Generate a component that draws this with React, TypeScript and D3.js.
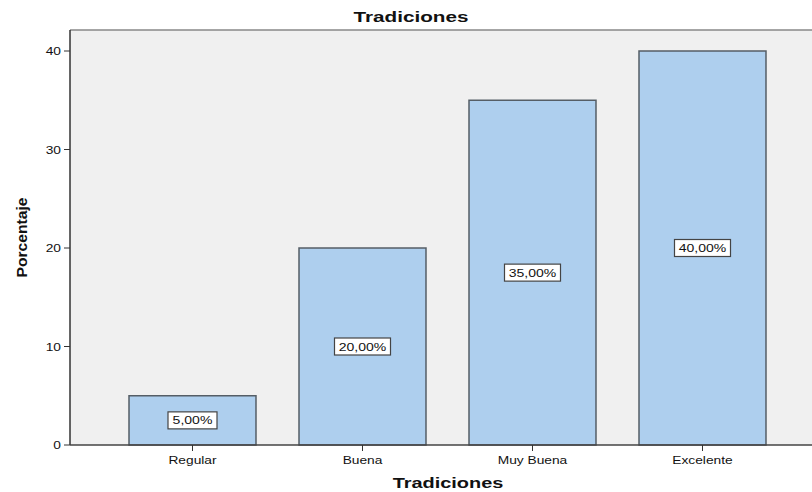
import React from "react";
import * as d3 from "d3";

const categories = ["Regular", "Buena", "Muy Buena", "Excelente"];
const values = [5, 20, 35, 40];
const valueLabels = ["5,00%", "20,00%", "35,00%", "40,00%"];
const yTicks = [0, 10, 20, 30, 40];

const W = 812;
const H = 492;
const plotLeft = 70;
const plotTop = 30;
const plotBottom = 445;
const plotRight = 830;
const font = "'Liberation Sans', Arial, sans-serif";

function T({ x, y, sx = 1.25, anchor = "middle", size = 11, bold = false, rotate = 0, children }: any) {
  return (
    <text
      transform={`translate(${x},${y}) rotate(${rotate}) scale(${sx},1)`}
      textAnchor={anchor}
      fontFamily={font}
      fontSize={size}
      fontWeight={bold ? "bold" : "normal"}
      fill="#111"
    >
      {children}
    </text>
  );
}

export default function App() {
  const y = d3.scaleLinear().domain([0, 40]).range([plotBottom, 51]);
  const x = d3
    .scaleBand<string>()
    .domain(categories)
    .range([107.5, 787.5])
    .paddingInner(0.253)
    .paddingOuter(0.1265);
  return (
    <svg
      width={W}
      height={H}
      style={{ position: "absolute", left: 0, top: 0, display: "block", background: "#fff" }}
    >
      <rect x={plotLeft} y={plotTop} width={plotRight - plotLeft} height={plotBottom - plotTop} fill="#f0f0f0" />
      <line x1={plotLeft} x2={plotRight} y1={plotTop} y2={plotTop} stroke="#888" strokeWidth={1.5} />
      {categories.map((c, i) => {
        const bx = x(c)!;
        const bw = x.bandwidth();
        const top = y(values[i]);
        const cx = bx + bw / 2;
        const cy = (top + plotBottom) / 2;
        const lw = valueLabels[i].length > 5 ? 56 : 49;
        return (
          <g key={c}>
            <rect x={bx} y={top} width={bw} height={plotBottom - top} fill="#aecfee" stroke="#555e66" strokeWidth={1.5} />
            <rect x={cx - lw / 2} y={cy - 8.5} width={lw} height={17} fill="#fff" stroke="#444" strokeWidth={1.2} />
            <T x={cx} y={cy + 4} size={11.5} sx={1.22}>
              {valueLabels[i]}
            </T>
          </g>
        );
      })}
      <line x1={plotLeft} x2={plotLeft} y1={plotTop} y2={plotBottom} stroke="#333" strokeWidth={1.5} />
      <line x1={plotLeft} x2={plotRight} y1={plotBottom} y2={plotBottom} stroke="#444" strokeWidth={1.5} />
      {yTicks.map((t) => (
        <g key={t}>
          <line x1={plotLeft - 6} x2={plotLeft} y1={y(t)} y2={y(t)} stroke="#333" strokeWidth={1} />
          <T x={plotLeft - 9} y={y(t) + 4} anchor="end" size={11}>
            {t}
          </T>
        </g>
      ))}
      {categories.map((c) => {
        const cx = x(c)! + x.bandwidth() / 2;
        return (
          <g key={"t" + c}>
            <line x1={cx} x2={cx} y1={plotBottom} y2={plotBottom + 6} stroke="#333" strokeWidth={1} />
            <T x={cx} y={plotBottom + 19} size={11}>
              {c}
            </T>
          </g>
        );
      })}
      <T x={411} y={22} size={15} bold sx={1.38}>
        Tradiciones
      </T>
      <T x={448} y={488} size={15} bold sx={1.33}>
        Tradiciones
      </T>
      <T x={27} y={(plotTop + plotBottom) / 2} size={14} bold rotate={-90} sx={1.12}>
        Porcentaje
      </T>
    </svg>
  );
}
